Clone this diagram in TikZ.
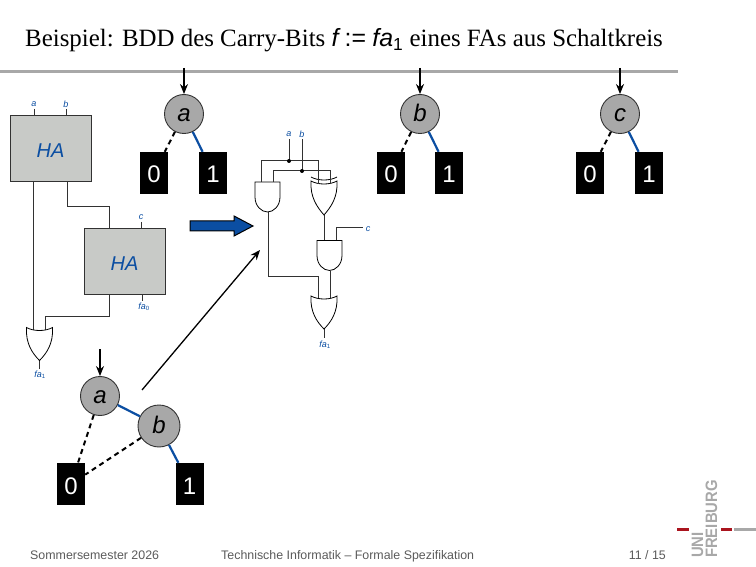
\documentclass[tikz,border=0pt]{standalone}
\usepackage{fontspec}
\setmainfont{Liberation Serif}
\setsansfont{Liberation Sans}
\usepackage{tikz}
\usetikzlibrary{arrows.meta}
\definecolor{ufblue}{RGB}{11,78,162}
\definecolor{ufgray}{RGB}{168,168,168}
\definecolor{ufred}{RGB}{170,20,30}
\definecolor{hagray}{RGB}{200,202,199}
\definecolor{wiregray}{RGB}{50,50,50}
\definecolor{footgray}{RGB}{90,90,90}
\tikzset{
  bddnode/.style={circle,draw=black!80,fill=ufgray,line width=0.9pt,minimum size=39pt,inner sep=0pt,text height=15pt,text depth=0pt,font=\fontsize{24}{24}\sffamily\itshape},
  leafbox/.style={fill=black,text=white,minimum width=28pt,minimum height=42pt,inner sep=0pt,text height=20pt,text depth=0pt,font=\fontsize{24}{24}\sffamily},
  hablock/.style={draw=wiregray,fill=hagray,line width=1pt,minimum width=81pt,minimum height=66pt,inner sep=0pt,text height=17pt,text depth=0pt,text=ufblue,font=\fontsize{20}{20}\sffamily\itshape},
  tinylabel/.style={text=ufblue,inner sep=0pt,font=\fontsize{9}{9}\sffamily\itshape},
  footlabel/.style={text=footgray,inner sep=0pt,font=\fontsize{12.4}{12.4}\sffamily},
  logotext/.style={rotate=90,anchor=base west,inner sep=0pt,text=ufgray,font=\fontsize{16.5}{16.5}\sffamily\bfseries},
  gatewire/.style={draw=wiregray,line width=1pt},
  zeroedge/.style={line width=2pt,dashed,dash pattern=on 5pt off 4pt},
  oneedge/.style={line width=2.2pt,draw=ufblue},
  startarrow/.style={-{Stealth[length=10pt,width=8pt]},line width=1.3pt},
  gateline/.style={draw=black,line width=0.8pt,fill=white},
  pics/andgate/.style={code={
    \draw[gateline] (-12.5,0) -- (12.5,0) -- (12.5,15) .. controls (12.5,24) and (6,30) .. (0,30) .. controls (-6,30) and (-12.5,24) .. (-12.5,15) -- cycle;
  }},
  pics/orgate/.style={code={
    \draw[gateline] (-13,0) .. controls (-6,4) and (6,4) .. (13,0) .. controls (14,16) and (7,26) .. (0,33) .. controls (-7,26) and (-14,16) .. (-13,0) -- cycle;
  }},
  pics/xorgate/.style={code={
    \draw[gateline] (-13,0) .. controls (-6,4) and (6,4) .. (13,0) .. controls (14,16) and (7,26) .. (0,34) .. controls (-7,26) and (-14,16) .. (-13,0) -- cycle;
    \draw[line width=0.8pt] (-13,-4) .. controls (-6,0) and (6,0) .. (13,-4);
  }},
}
\begin{document}
\begin{tikzpicture}[x=1pt,y=-1pt]
  \useasboundingbox (0,0) rectangle (756,567);
  % title
  \node[inner sep=0pt,anchor=base west,font=\fontsize{24.9}{24.9}\selectfont] (title) at (25,47)
    {Beispiel: BDD des Carry-Bits {\sffamily\itshape f} {\sffamily :=} {\sffamily\itshape fa\textsubscript{\upshape 1}} eines FAs aus Schaltkreis};
  \fill[ufgray] (0,70) rectangle (678,73);

  % the three small BDDs
  \foreach \v/\x/\l/\r in {a/184/154/213,b/420/391/449,c/620/590/649}{
    \coordinate (in\v) at (\x,68);
    \node[bddnode] (n\v) at (\x,114) {\v};
    \node[leafbox] (zero\v) at (\l,173) {0};
    \node[leafbox] (one\v) at (\r,173) {1};
    \draw[startarrow] (in\v) -- (n\v);
    \draw[zeroedge] (n\v) -- (zero\v);
    \draw[oneedge] (n\v) -- (one\v);
  }

  % half adders on the left
  \node[hablock] (ha1) at (50.5,149) {HA};
  \node[hablock] (ha2) at (124.5,261.5) {HA};
  \node[tinylabel] (la1) at (34,104) {a};
  \node[tinylabel] (lb1) at (66,104) {b};
  \node[tinylabel] (lc1) at (141,217) {c};
  \node[tinylabel] (lfa0) at (144,307) {fa\textsubscript{\upshape 0}};
  \node[tinylabel] (lfa1) at (40,375) {fa\textsubscript{\upshape 1}};
  \draw[gatewire] (34,109) -- (34,116);
  \draw[gatewire] (66,109) -- (66,116);
  \draw[gatewire] (141,222) -- (141,228);
  \draw[gatewire] (142,295) -- (142,301);
  \draw[gatewire] (33,182) -- (33,331);
  \draw[gatewire] (67,182) -- (67,207) -- (109,207) -- (109,228);
  \draw[gatewire] (109,295) -- (109,316) -- (45,316) -- (45,331);
  \draw[gatewire] (39.5,361) -- (39.5,369);
  \pic at (39.5,327.5) {orgate};

  % arrows between the pictures
  \draw[fill=ufblue,draw=black,line width=1pt] (190,221) -- (234,221) -- (234,216) -- (253,226) -- (234,236) -- (234,231) -- (190,231) -- cycle;
  \coordinate (arrowfrom) at (142,390);
  \coordinate (arrowto) at (260,250);
  \draw[startarrow] (arrowfrom) -- (arrowto);

  % gate level circuit
  \node[tinylabel] (la2) at (289,134) {a};
  \node[tinylabel] (lb2) at (302,134) {b};
  \node[tinylabel] (lc2) at (368,229) {c};
  \node[tinylabel] (lfa2) at (325,345) {fa\textsubscript{\upshape 1}};
  \draw[gatewire] (289,139) -- (289,161);
  \draw[gatewire] (302,139) -- (302,171);
  \draw[gatewire] (261,182) -- (261,161) -- (318,161) -- (318,184);
  \draw[gatewire] (273,182) -- (273,171) -- (330,171) -- (330,184);
  \draw[gatewire] (268,212) -- (268,277) -- (318,277) -- (318,299);
  \draw[gatewire] (324,215) -- (324,240);
  \draw[gatewire] (336,240) -- (336,228) -- (363,228);
  \draw[gatewire] (330,271) -- (330,299);
  \draw[gatewire] (324,329) -- (324,338);
  \fill (289,161) circle (2pt);
  \fill (302,171) circle (2pt);
  \pic at (267.5,182) {andgate};
  \pic at (324,181) {xorgate};
  \pic at (329.5,240.5) {andgate};
  \pic at (324,296) {orgate};
  \draw[gatewire] (318,184) -- (318,176);
  \draw[gatewire] (330,184) -- (330,176);

  % BDD at the bottom
  \coordinate (inf) at (100,349);
  \node[bddnode] (fa) at (100,396) {a};
  \node[bddnode,minimum size=42pt] (fb) at (159,426) {b};
  \node[leafbox] (fzero) at (71,484) {0};
  \node[leafbox] (fone) at (189.5,484) {1};
  \draw[startarrow] (inf) -- (fa);
  \draw[oneedge] (fa) -- (fb);
  \draw[oneedge] (fb) -- (fone);
  \draw[zeroedge] (fa) -- (fzero);
  \draw[zeroedge] (fb) -- (fzero);

  % footer
  \node[footlabel,anchor=base west] (term) at (30,559) {Sommersemester 2026};
  \node[footlabel,anchor=base west] (course) at (221,559) {Technische Informatik – Formale Spezifikation};
  \node[footlabel,anchor=base east] (page) at (666,559) {11 / 15};

  % logo
  \node[logotext] (uni) at (703,558) {\scalebox{0.9}[1]{UNI}};
  \node[logotext] (freiburg) at (717,558) {\scalebox{0.9}[1]{FREIBURG}};
  \fill[ufred] (677,528) rectangle (689,531);
  \fill[ufred] (721,528) rectangle (732,531);
  \fill[ufgray] (734,528) rectangle (756,531);
\end{tikzpicture}
\end{document}
